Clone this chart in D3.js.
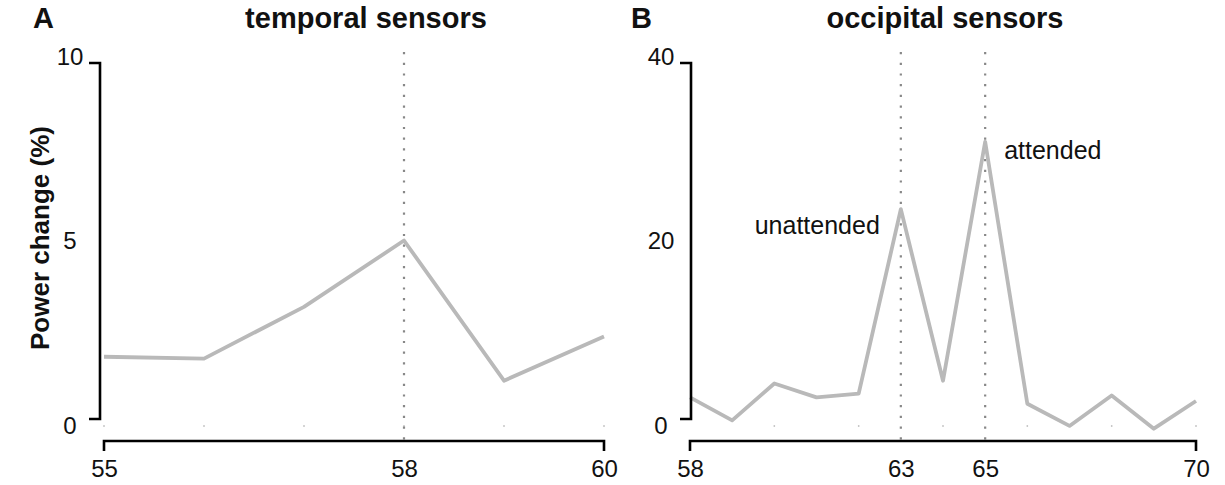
<!DOCTYPE html>
<html>
<head>
<meta charset="utf-8">
<script src="https://cdn.jsdelivr.net/npm/d3@7"></script>
<style>
body { margin: 0; background: #fff; }
text { font-family: "Liberation Sans", Arial, Helvetica, sans-serif; fill: #111; }
</style>
</head>
<body>
<svg id="chart" width="1225" height="485"></svg>
<script>
// panel A - temporal sensors
var freqA = [55, 56, 57, 58, 59, 60];
var powerA = [1.85, 1.8, 3.2, 5.0, 1.2, 2.4];
var xTicksA = [55, 58, 60];
var yTicksA = [0, 5, 10];
var markA = [58];

// panel B - occipital sensors
var freqB = [58, 59, 60, 61, 62, 63, 64, 65, 66, 67, 68, 69, 70];
var powerB = [3.0, 0.5, 4.5, 3.0, 3.4, 23.4, 4.8, 30.7, 2.3, -0.1, 3.2, -0.4, 2.6];
var xTicksB = [58, 63, 65, 70];
var yTicksB = [0, 20, 40];
var markB = [63, 65];
var notesB = [{f: 63, label: "unattended", side: "left"}, {f: 65, label: "attended", side: "right"}];

var svg = d3.select("#chart");
svg.append("rect").attr("width", 1225).attr("height", 485).attr("fill", "#fff");

var yTop = 56, yZero = 425;   // pixel rows of the top label and of 0
var xAxisY = 441;

function drawPanel(p)
{
    var x = d3.scaleLinear().domain(d3.extent(p.freq)).range(p.xRange);
    var y = d3.scaleLinear().domain([0, p.yMax]).range([yZero, yTop]);
    var g = svg.append("g");

    // faint grid dots along the bottom
    g.selectAll(".mdot").data(p.minor).enter().append("rect")
        .attr("x", function(d){ return x(d) - 0.75; })
        .attr("y", 425)
        .attr("width", 1.5).attr("height", 2)
        .attr("fill", "#c8c8c8");

    // dotted markers
    g.selectAll(".mark").data(p.marks).enter().append("line")
        .attr("x1", function(d){ return x(d); })
        .attr("x2", function(d){ return x(d); })
        .attr("y1", 52).attr("y2", 448)
        .attr("stroke", "#888")
        .attr("stroke-width", 2.2)
        .attr("stroke-dasharray", "2.2,8.5");

    var line = d3.line()
        .x(function(d, i){ return x(p.freq[i]); })
        .y(function(d){ return y(d); });

    g.append("path").datum(p.power)
        .attr("d", line)
        .attr("fill", "none")
        .attr("stroke", "#b9b9b9")
        .attr("stroke-width", 3.8)
        .attr("stroke-linejoin", "round");

    // y axis: bracket + labels
    var ax = p.axisX;
    g.append("path")
        .attr("d", "M" + (ax - 11) + "," + (y(p.yMax) + 7) + "H" + ax + "V" + (y(0) - 6) + "H" + (ax - 11))
        .attr("fill", "none").attr("stroke", "#000").attr("stroke-width", 2.6);

    var ya = g.append("g").attr("transform", "translate(" + (ax - 30) + ",0)")
        .call(d3.axisLeft(y).tickValues(p.yTicks).tickFormat(d3.format("d")).tickSize(0).tickPadding(0));
    ya.select(".domain").remove();
    ya.selectAll("text").attr("x", 0).attr("dy", "0.35em")
        .attr("text-anchor", "middle")
        .style("font-size", "24px").style("font-family", null);

    // x axis: bracket + labels
    g.append("path")
        .attr("d", "M" + p.xRange[0] + "," + (xAxisY + 10) + "V" + xAxisY + "H" + p.xRange[1] + "V" + (xAxisY + 10))
        .attr("fill", "none").attr("stroke", "#000").attr("stroke-width", 2.6);

    var xa = g.append("g").attr("transform", "translate(0," + xAxisY + ")")
        .call(d3.axisBottom(x).tickValues(p.xTicks).tickFormat(d3.format("d")).tickSize(0));
    xa.select(".domain").remove();
    xa.selectAll("text").attr("y", 36).attr("dy", null)
        .style("font-size", "24px").style("font-family", null);

    // titles
    g.append("text").attr("x", p.letterX).attr("y", 28)
        .style("font-size", "29px").style("font-weight", "bold")
        .text(p.letter);
    g.append("text").attr("x", p.titleX).attr("y", 28)
        .attr("text-anchor", "middle")
        .style("font-size", "29px").style("font-weight", "bold")
        .text(p.title);

    if (p.notes) {
        p.notes.forEach(function(n){
            var v = p.power[p.freq.indexOf(n.f)];
            g.append("text")
                .attr("x", n.side == "left" ? x(n.f) - 21 : x(n.f) + 19)
                .attr("y", n.side == "left" ? y(v) + 25 : y(v) + 17)
                .attr("text-anchor", n.side == "left" ? "end" : "start")
                .style("font-size", "25px")
                .text(n.label);
        });
    }
    return g;
}

drawPanel({freq: freqA, power: powerA, xTicks: xTicksA, yTicks: yTicksA, yMax: 10,
    marks: markA, minor: freqA, xRange: [104, 604], axisX: 100,
    letter: "A", letterX: 33, title: "temporal sensors", titleX: 366});

drawPanel({freq: freqB, power: powerB, xTicks: xTicksB, yTicks: yTicksB, yMax: 40,
    marks: markB, minor: [60, 62, 64, 66, 68, 70], xRange: [690, 1196], axisX: 691,
    letter: "B", letterX: 631, title: "occipital sensors", titleX: 945, notes: notesB});

svg.append("text")
    .attr("transform", "translate(49,238) rotate(-90)")
    .attr("text-anchor", "middle")
    .style("font-size", "26px").style("font-weight", "bold")
    .text("Power change (%)");
</script>
</body>
</html>
